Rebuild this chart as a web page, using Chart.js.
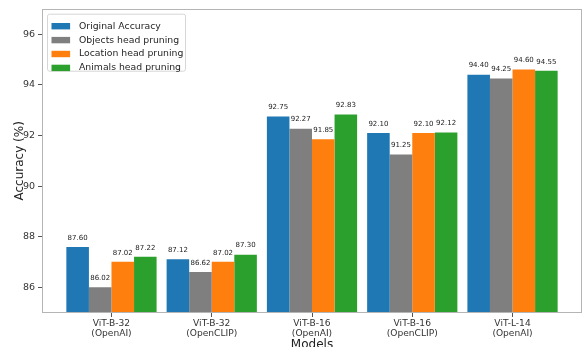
<!DOCTYPE html>
<html>
<head>
<meta charset="utf-8">
<script src="https://cdn.jsdelivr.net/npm/chart.js@4"></script>
<style>
  html, body { margin: 0; padding: 0; background: #fff; overflow: hidden; }
  #wrap { width: 585px; height: 347px; }
</style>
</head>
<body>
<div id="wrap"><canvas id="chart" width="585" height="347"></canvas></div>
<script>
// Model categories (two-line tick labels)
const models = [
  ["ViT-B-32", "(OpenAI)"],
  ["ViT-B-32", "(OpenCLIP)"],
  ["ViT-B-16", "(OpenAI)"],
  ["ViT-B-16", "(OpenCLIP)"],
  ["ViT-L-14", "(OpenAI)"]
];

// Accuracy (%) per model
const originalAccuracy = [87.60, 87.12, 92.75, 92.10, 94.40];
const objectsPruning   = [86.02, 86.62, 92.27, 91.25, 94.25];
const locationPruning  = [87.02, 87.02, 91.85, 92.10, 94.60];
const animalsPruning   = [87.22, 87.30, 92.83, 92.12, 94.55];

const seriesNames = ["Original Accuracy", "Objects head pruning", "Location head pruning", "Animals head pruning"];
const yTicks = [86, 88, 90, 92, 94, 96];

const FONT = "'DejaVu Sans', 'Liberation Sans', sans-serif";
const colors = ["#1f77b4", "#7f7f7f", "#ff7f0e", "#2ca02c"];
const seriesValues = [originalAccuracy, objectsPruning, locationPruning, animalsPruning];

const datasets = seriesValues.map((vals, i) => ({
  label: seriesNames[i],
  data: vals.map((v, j) => ({ x: j, y: v })),
  backgroundColor: colors[i],
  borderWidth: 0,
  categoryPercentage: 0.9,
  barPercentage: 1.0
}));

// Thin frame around the plotting area
const framePlugin = {
  id: 'frame',
  afterDraw(chart) {
    const { ctx, chartArea: a } = chart;
    ctx.save();
    ctx.strokeStyle = '#b5b5b5';
    ctx.lineWidth = 1;
    ctx.strokeRect(Math.round(a.left) + 0.5, Math.round(a.top) + 0.5,
                   Math.round(a.right - a.left) - 1, Math.round(a.bottom - a.top) - 1);
    ctx.restore();
  }
};

// Numeric value printed above every bar
const valueLabels = {
  id: 'valueLabels',
  afterDatasetsDraw(chart) {
    const { ctx } = chart;
    ctx.save();
    ctx.font = `7px ${FONT}`;
    ctx.fillStyle = '#222';
    ctx.textAlign = 'center';
    ctx.textBaseline = 'middle';
    chart.data.datasets.forEach((ds, i) => {
      chart.getDatasetMeta(i).data.forEach((bar, j) => {
        ctx.fillText(ds.data[j].y.toFixed(2), bar.x, bar.y - 9);
      });
    });
    ctx.restore();
  }
};

// Framed legend in the upper-left corner of the plot
const boxLegend = {
  id: 'boxLegend',
  afterDraw(chart) {
    const { ctx, chartArea: a } = chart;
    const x = a.left + 5.5, y = a.top + 5.5, w = 138, h = 57, r = 2;
    ctx.save();
    ctx.beginPath();
    ctx.moveTo(x + r, y);
    ctx.lineTo(x + w - r, y); ctx.quadraticCurveTo(x + w, y, x + w, y + r);
    ctx.lineTo(x + w, y + h - r); ctx.quadraticCurveTo(x + w, y + h, x + w - r, y + h);
    ctx.lineTo(x + r, y + h); ctx.quadraticCurveTo(x, y + h, x, y + h - r);
    ctx.lineTo(x, y + r); ctx.quadraticCurveTo(x, y, x + r, y);
    ctx.closePath();
    ctx.fillStyle = 'rgba(255,255,255,0.85)';
    ctx.fill();
    ctx.strokeStyle = '#d6d6d6';
    ctx.lineWidth = 1;
    ctx.stroke();
    ctx.font = `9.3px ${FONT}`;
    ctx.textBaseline = 'middle';
    ctx.textAlign = 'left';
    chart.data.datasets.forEach((ds, i) => {
      const cy = y + 12 + i * 13.9;
      ctx.fillStyle = ds.backgroundColor;
      ctx.fillRect(x + 4, cy - 3.2, 18.6, 6.4);
      ctx.fillStyle = '#262626';
      ctx.fillText(ds.label, x + 31.5, cy);
    });
    ctx.restore();
  }
};

new Chart(document.getElementById('chart'), {
  type: 'bar',
  data: { datasets },
  plugins: [framePlugin, valueLabels, boxLegend],
  options: {
    responsive: false,
    devicePixelRatio: 1,
    animation: false,
    layout: { padding: { top: 5, right: 3, left: 0, bottom: 0 } },
    plugins: { legend: { display: false }, tooltip: { enabled: false } },
    scales: {
      x: {
        type: 'linear',
        min: -0.693,
        max: 4.693,
        offset: false,
        afterBuildTicks(scale) { scale.ticks = models.map((_, i) => ({ value: i })); },
        afterFit(scale) { scale.height = 34; },
        border: { display: false },
        grid: { offset: false, drawOnChartArea: false, drawTicks: true, tickLength: 4, color: '#555' },
        ticks: {
          autoSkip: false, maxRotation: 0, minRotation: 0, padding: 1,
          color: '#333',
          font: { family: FONT, size: 9.1, lineHeight: 1.14 },
          callback: (v) => models[v]
        },
        title: {
          display: true, text: 'Models', color: '#222',
          font: { family: FONT, size: 12, lineHeight: 0.4 },
          padding: { top: 0, bottom: 0 }
        }
      },
      y: {
        min: 85,
        max: 97,
        afterBuildTicks(scale) { scale.ticks = yTicks.map(v => ({ value: v })); },
        afterFit(scale) { scale.width = 42; },
        border: { display: false },
        grid: { drawOnChartArea: false, drawTicks: true, tickLength: 4, color: '#555' },
        ticks: {
          padding: 3, color: '#333',
          font: { family: FONT, size: 9.5 },
          callback: (v) => String(v)
        },
        title: {
          display: true, text: 'Accuracy (%)', color: '#222',
          font: { family: FONT, size: 12, lineHeight: 1.2 },
          padding: { top: 12.5, bottom: 0 }
        }
      }
    }
  }
});
</script>
</body>
</html>
